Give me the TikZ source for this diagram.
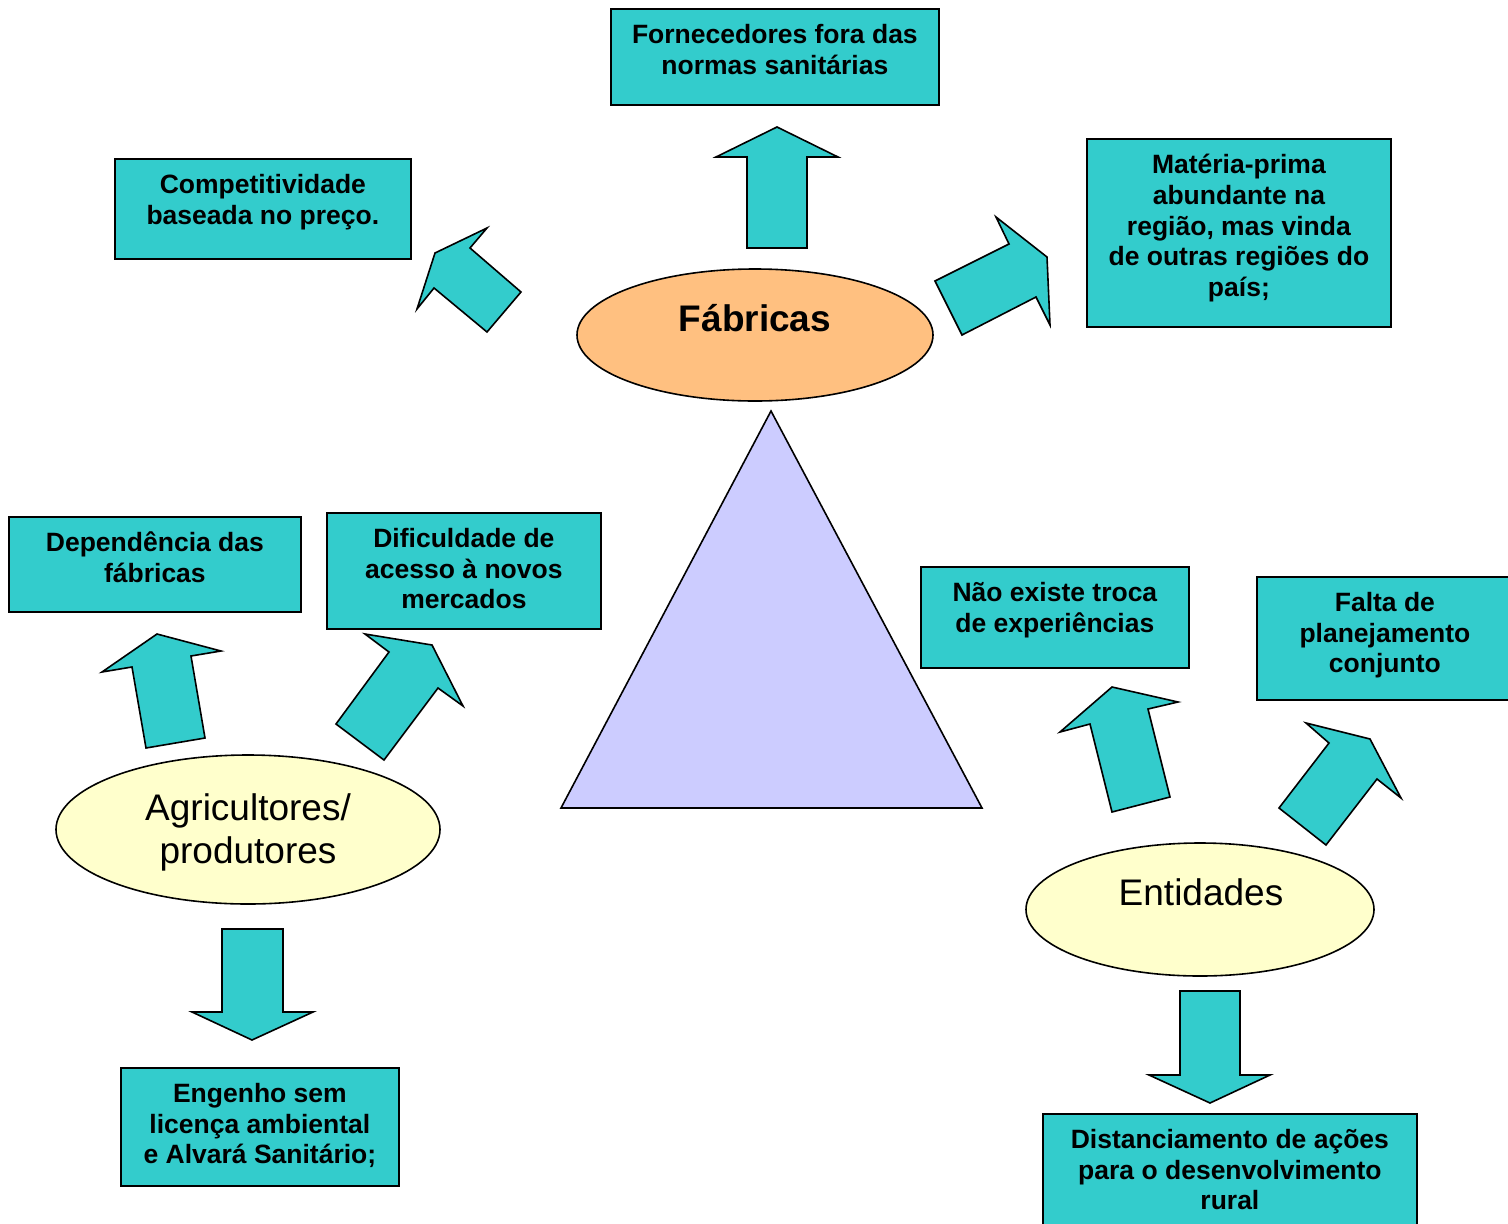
\documentclass[tikz,border=0pt]{standalone}
\usepackage{fontspec}
\setmainfont{Liberation Sans}
\usetikzlibrary{shapes.geometric}
\definecolor{tealbox}{HTML}{33CCCC}
\definecolor{orng}{HTML}{FFC080}
\definecolor{lyel}{HTML}{FFFFCC}
\definecolor{lav}{HTML}{CCCCFF}
\begin{document}
\begin{tikzpicture}[x=1pt,y=-1pt,
  box/.style={draw=black, line width=1.8pt, fill=tealbox, inner sep=0pt, anchor=north west},
  boxtxt/.style={anchor=north, inner sep=0pt, align=center,
    font=\fontsize{26.5}{30.7}\selectfont\bfseries,
    execute at begin node={\rule{0pt}{26pt}}},
  ell/.style={ellipse, draw=black, line width=1.6pt, inner sep=0pt},
  bigtxt/.style={inner sep=0pt, font=\fontsize{37}{43}\selectfont},
  blockarrow/.style={draw=black, line width=1.6pt, fill=tealbox, line join=miter}]
\useasboundingbox (0,0) rectangle (1508,1224);

% triangle
\draw[fill=lav, line width=1.6pt, line join=miter] (771,411) -- (561,808) -- (982,808) -- cycle;

% ellipses
\node[ell, fill=orng, minimum width=356pt, minimum height=132pt] (fab) at (755,335) {};
\node[bigtxt, font=\fontsize{37}{43}\selectfont\bfseries, anchor=base] (fabt) at (755,331) {Fábricas};
\node[ell, fill=lyel, minimum width=384pt, minimum height=149pt] (agr) at (248,829.5) {};
\node[bigtxt, anchor=north, align=center, execute at begin node={\rule{0pt}{36pt}}] (agrt) at (248,793) {Agricultores/\\produtores};
\node[ell, fill=lyel, minimum width=348pt, minimum height=133pt] (ent) at (1200,909.5) {};
\node[bigtxt, anchor=base] (entt) at (1201,905) {Entidades};

% block arrows
\draw[blockarrow] (777,127) -- (838,157) -- (807,157) -- (807,248) -- (747,248) -- (747,157) -- (716,157) -- cycle;
\draw[blockarrow] (487,228) -- (470,248) -- (521,292) -- (487,332) -- (434,288) -- (417,309) -- (435,253) -- cycle;
\draw[blockarrow] (996,217) -- (1009,244) -- (935,281) -- (962,335) -- (1036,297) -- (1050,325) -- (1047,257) -- cycle;
\draw[blockarrow] (157,634) -- (221,651) -- (191,656) -- (205,738) -- (146,748) -- (132,667) -- (102,672) -- cycle;
\draw[blockarrow] (365,634) -- (432,645) -- (463,706) -- (438,688) -- (384,760) -- (336,724) -- (389,652) -- cycle;
\draw[blockarrow] (1112,687) -- (1178,702) -- (1148,709) -- (1170,797) -- (1112,812) -- (1090,724) -- (1060,732) -- cycle;
\draw[blockarrow] (1306,723) -- (1370,739) -- (1401,798) -- (1377,779) -- (1326,845) -- (1279,808) -- (1329,743) -- cycle;
\draw[blockarrow] (222,929) -- (283,929) -- (283,1012) -- (313,1012) -- (252,1040) -- (192,1012) -- (222,1012) -- cycle;
\draw[blockarrow] (1180,991) -- (1240,991) -- (1240,1075) -- (1270,1075) -- (1210,1103) -- (1149,1075) -- (1180,1075) -- cycle;

% boxes
\node[box, minimum width=328pt, minimum height=96pt] (b1) at (610,8) {};
\node[boxtxt] (t1) at ([yshift=-16pt]b1.north) {Fornecedores fora das\\normas sanitárias};
\node[box, minimum width=296pt, minimum height=100pt] (b2) at (114,158) {};
\node[boxtxt] (t2) at ([yshift=-16pt]b2.north) {Competitividade\\baseada no preço.};
\node[box, minimum width=304pt, minimum height=188pt] (b3) at (1086,138) {};
\node[boxtxt] (t3) at ([yshift=-16pt]b3.north) {Matéria-prima\\abundante na\\região, mas vinda\\de outras regiões do\\país;};
\node[box, minimum width=292pt, minimum height=95pt] (b4) at (8,516) {};
\node[boxtxt] (t4) at ([yshift=-16pt]b4.north) {Dependência das\\fábricas};
\node[box, minimum width=274pt, minimum height=116pt] (b5) at (326,512) {};
\node[boxtxt] (t5) at ([yshift=-16pt]b5.north) {Dificuldade de\\acesso à novos\\mercados};
\node[box, minimum width=268pt, minimum height=101pt] (b6) at (920,566) {};
\node[boxtxt] (t6) at ([yshift=-16pt]b6.north) {Não existe troca\\de experiências};
\node[box, minimum width=256pt, minimum height=123pt] (b7) at (1256,576) {};
\node[boxtxt] (t7) at ([yshift=-16pt]b7.north) {Falta de\\planejamento\\conjunto};
\node[box, minimum width=278pt, minimum height=118pt] (b8) at (120,1067) {};
\node[boxtxt] (t8) at ([yshift=-16pt]b8.north) {Engenho sem\\licença ambiental\\e Alvará Sanitário;};
\node[box, minimum width=374pt, minimum height=120pt] (b9) at (1042,1113) {};
\node[boxtxt] (t9) at ([yshift=-16pt]b9.north) {Distanciamento de ações\\para o desenvolvimento\\rural};
\end{tikzpicture}
\end{document}
